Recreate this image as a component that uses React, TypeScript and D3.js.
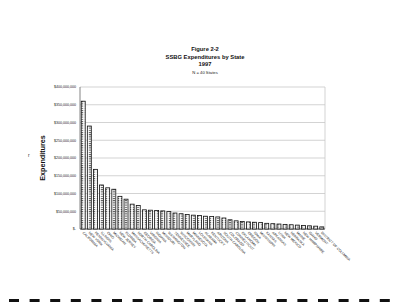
import React from "react";
import * as d3 from "d3";

const states = [
  "CALIFORNIA", "NEW YORK", "PENNSYLVANIA", "ILLINOIS", "OHIO", "MICHIGAN",
  "NEW JERSEY", "FLORIDA", "MASSACHUSETTS", "NORTH CAROLINA", "GEORGIA", "VIRGINIA",
  "INDIANA", "MISSOURI", "WASHINGTON", "TENNESSEE", "WISCONSIN", "MARYLAND",
  "MINNESOTA", "LOUISIANA", "ALABAMA", "KENTUCKY", "ARIZONA", "SOUTH CAROLINA",
  "COLORADO", "CONNECTICUT", "OKLAHOMA", "OREGON", "IOWA", "MISSISSIPPI",
  "KANSAS", "ARKANSAS", "UTAH", "NEW MEXICO", "NEBRASKA", "MAINE",
  "NEW HAMPSHIRE", "IDAHO", "VERMONT", "DISTRICT OF COLUMBIA",
];

// SSBG expenditures, millions of dollars
const expenditures = [
  360, 290, 168, 124, 116, 112, 92, 84, 70, 66,
  54, 53, 52, 51, 49, 45, 43, 41, 39, 38,
  36, 35, 34, 31, 26, 23, 21, 20, 19, 18,
  16, 15, 14, 13, 12, 11, 10, 9, 8, 6,
];

const yTicks = [0, 50, 100, 150, 200, 250, 300, 350, 400];

const titleLines = ["Figure 2-2", "SSBG Expenditures by State", "1997"];
const subtitle = "N = 40 States";

export default function App() {
  const W = 400, H = 307;
  const left = 80, right = 325, top = 87, bottom = 229;
  const x = d3.scaleBand<string>().domain(states).range([left, right]).paddingInner(0.35).paddingOuter(0.2);
  const y = d3.scaleLinear().domain([0, 400]).range([bottom, top]);
  const fmt = (v: number) => (v === 0 ? "$-" : "$" + d3.format(",")(v * 1e6));
  const font = "Arial, 'Liberation Sans', sans-serif";
  const dashes = d3.range(19);
  return (
    <svg width={W} height={H} style={{ position: "absolute", left: 0, top: 0, background: "#fff" }} fontFamily={font}>
      <defs>
        <pattern id="hatch" width="4" height="2.2" patternUnits="userSpaceOnUse">
          <rect width="4" height="2.2" fill="#fff" />
          <rect x="0.8" y="0" width="2.4" height="1" fill="#555" />
        </pattern>
      </defs>
      <rect width={W} height={H} fill="#fff" />
      {titleLines.map((t, i) => (
        <text key={t} x={205} y={51 + i * 7.5} textAnchor="middle" fontSize={i === 1 ? 5.8 : 5.8} fontWeight="bold" fill="#111">{t}</text>
      ))}
      <text x={205} y={74} textAnchor="middle" fontSize={4.2} fill="#222">{subtitle}</text>
      {yTicks.map((t) => (
        <line key={t} x1={left} x2={right} y1={y(t)} y2={y(t)} stroke="#c8c8c8" strokeWidth={0.8} />
      ))}
      <line x1={right} x2={right} y1={top} y2={bottom} stroke="#c8c8c8" strokeWidth={0.8} />
      {yTicks.map((t) => (
        <text key={"l" + t} x={left - 4} y={y(t) + 1.3} textAnchor="end" fontSize={3.6} fill="#222">{fmt(t)}</text>
      ))}
      <line x1={left} x2={left} y1={top} y2={bottom} stroke="#666" strokeWidth={0.8} />
      <line x1={left} x2={right} y1={bottom} y2={bottom} stroke="#444" strokeWidth={0.8} />
      {states.map((s, i) => (
        <rect key={s} x={x(s)} y={y(expenditures[i])} width={x.bandwidth()} height={bottom - y(expenditures[i])}
          fill="url(#hatch)" stroke="#111" strokeWidth={0.8} />
      ))}
      {states.map((s) => {
        const cx = (x(s) as number) + x.bandwidth() / 2;
        return (
          <text key={"x" + s} transform={`translate(${cx - 1},${bottom + 4}) rotate(45)`} fontSize={3.4} fill="#222">{s}</text>
        );
      })}
      <text transform={`translate(45,158) rotate(-90)`} textAnchor="middle" fontSize={7.2} fontWeight="bold" fill="#111">Expenditures</text>
      <text x={28} y={157} fontSize={5} fill="#333">r</text>
      {dashes.map((d) => (
        <rect key={d} x={9 + d * 20.6} y={299} width={10} height={3} fill="#111" />
      ))}
    </svg>
  );
}
